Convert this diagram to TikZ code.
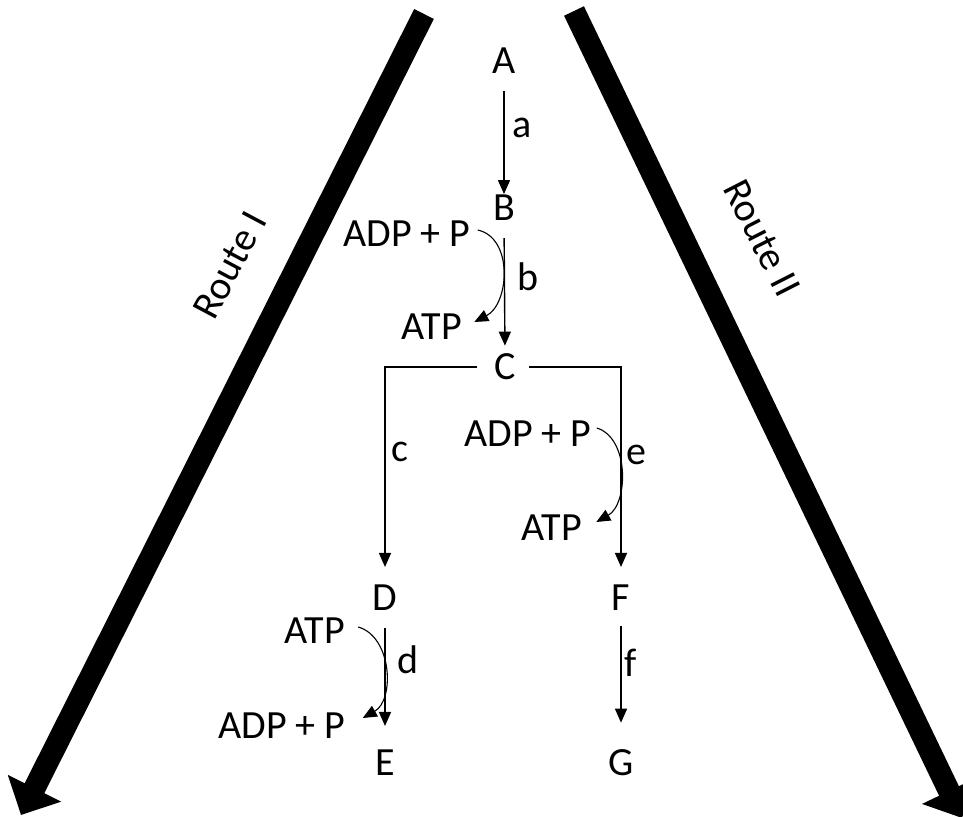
\documentclass[tikz,border=0pt]{standalone}
\usepackage{fontspec}
\setmainfont{Carlito}
\usetikzlibrary{arrows.meta}
\begin{document}
\begin{tikzpicture}[x=1pt,y=-1pt,
  lbl/.style={font=\fontsize{40}{46}\selectfont, inner sep=0pt, anchor=center},
  thin/.style={line width=1.4pt, -{Triangle[length=14pt,width=12pt]}},
  curv/.style={line width=1.1pt, -{Triangle[length=14pt,width=12pt]}},
  route/.style={line width=22pt, -{Triangle[length=30pt,width=58pt]}}]
\useasboundingbox (0,0) rectangle (963,816);
\fill[white] (0,0) rectangle (963,816);
% big route arrows
\coordinate (r1s) at (424,14);
\coordinate (r1e) at (21,815);
\coordinate (r2s) at (574,11);
\coordinate (r2e) at (962,818);
\draw[route] (r1s) -- (r1e);
\draw[route] (r2s) -- (r2e);
\node[lbl, rotate=62] (rt1) at (230,265) {Route I};
\node[lbl, rotate=-63] (rt2) at (762,238) {Route II};
% main nodes
\node[lbl] (A) at (504,61) {A};
\node[lbl] (B) at (504,208) {B};
\node[lbl] (C) at (505,367) {C};
\node[lbl] (D) at (385,598) {D};
\node[lbl] (E) at (385,763) {E};
\node[lbl] (F) at (621,598) {F};
\node[lbl] (G) at (621,763) {G};
% step labels
\node[lbl] (la) at (522,128) {a};
\node[lbl] (lb) at (528,277) {b};
\node[lbl] (lc) at (400,452) {c};
\node[lbl] (ld) at (408,660) {d};
\node[lbl] (le) at (636,455) {e};
\node[lbl] (lf) at (631,663) {f};
% cofactors
\node[lbl] (adp1) at (407,234) {ADP + P};
\node[lbl] (atp1) at (432,327) {ATP};
\node[lbl] (adp2) at (528,434) {ADP + P};
\node[lbl] (atp2) at (552,528) {ATP};
\node[lbl] (atp3) at (315,631) {ATP};
\node[lbl] (adp3) at (282,726) {ADP + P};
% main arrows
\draw[thin, shorten <=17pt, shorten >=27pt] (A.south) -- (B.south);
\draw[thin, shorten <=17pt, shorten >=8pt] (B.south) -- (C.north);
\draw[thin, shorten <=17pt, shorten >=18pt] (C.west) -| (D.north);
\draw[thin, shorten <=13pt, shorten >=18pt] (C.east) -| (F.north);
\draw[thin, shorten <=17pt, shorten >=24pt] (D.south) -- (E.north);
\draw[thin, shorten <=15pt, shorten >=27pt] (F.south) -- (G.north);
% curved cofactor arrows
\draw[curv]
  ([shift={(7,-4)}]adp1.east) .. controls +(36,8) and +(35,-18) .. ([shift={(12,-5)}]atp1.east);
\draw[curv]
  ([shift={(5,-6)}]adp2.east) .. controls +(33,10) and +(32,-18) .. ([shift={(14,-6)}]atp2.east);
\draw[curv]
  ([shift={(13,-4)}]atp3.east) .. controls +(34,10) and +(32,-18) .. ([shift={(17,-8)}]adp3.east);
\end{tikzpicture}
\end{document}
